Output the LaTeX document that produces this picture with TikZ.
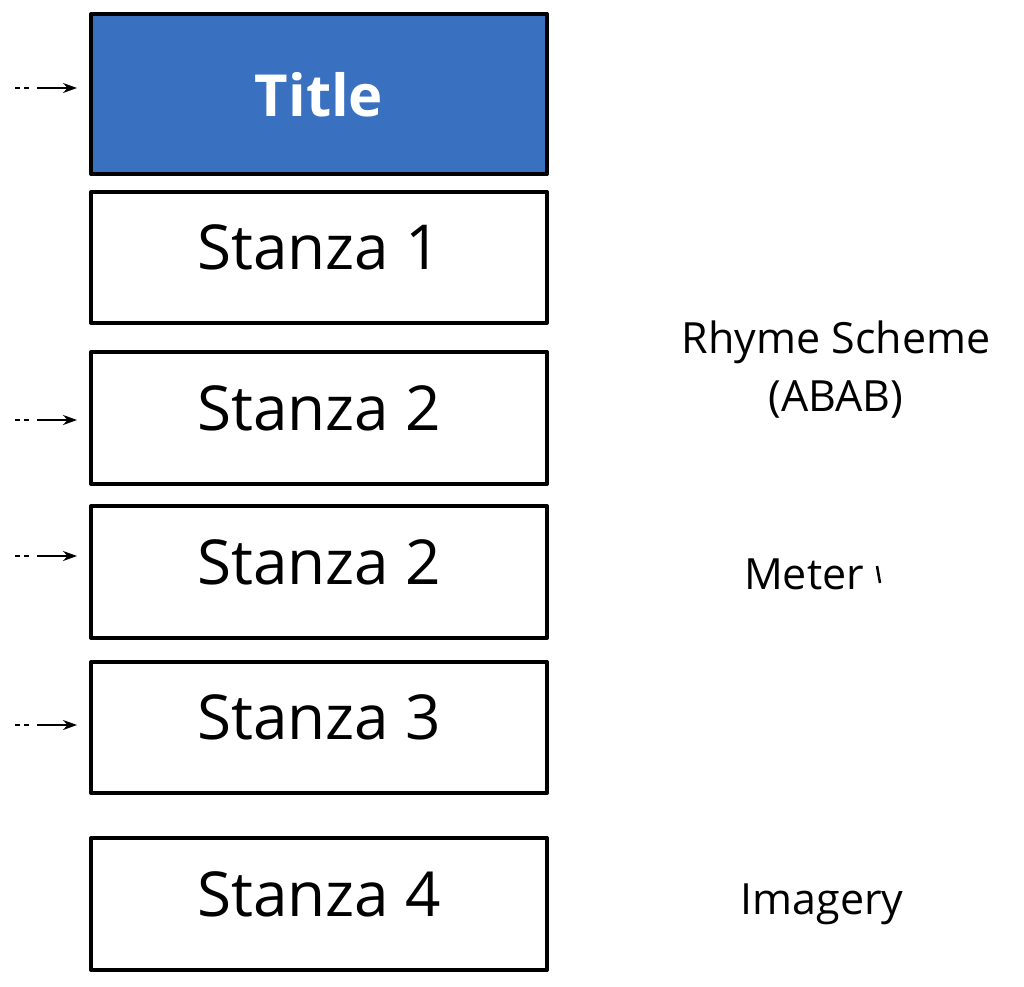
\documentclass[tikz,border=0pt]{standalone}
\usepackage{fontspec}
\setmainfont{Open Sans}
\usetikzlibrary{arrows.meta,calc}
\definecolor{titleblue}{RGB}{58,112,192}

\begin{document}
\begin{tikzpicture}[x=1pt, y=-1pt, >={Stealth[length=14pt,width=10pt]}, line join=round]
    \useasboundingbox (0,0) rectangle (1024,986);
    \tikzset{
        partbox/.style={draw=black, line width=4pt, minimum width=456pt, text depth=20pt, font=\fontsize{62}{70}\selectfont},
        sidelabel/.style={font=\fontsize{43}{58}\selectfont, align=center}
    }

    % 标题与各节
    \node[partbox, fill=titleblue, minimum height=160pt, text depth=0pt, text=white, font=\fontsize{58}{70}\selectfont\bfseries] (t) at (319,94) {Title};
    \node[partbox, minimum height=131pt] (s1) at (319,257.5) {Stanza 1};
    \node[partbox, minimum height=132pt] (s2) at (319,418) {Stanza 2};
    \node[partbox, minimum height=132pt] (s2b) at (319,572) {Stanza 2};
    \node[partbox, minimum height=131pt] (s3) at (319,727.5) {Stanza 3};
    \node[partbox, minimum height=132pt] (s4) at (319,904) {Stanza 4};

    % 左侧箭头
    \foreach \n/\y in {t/88, s2/420, s2b/556, s3/725} {
        \coordinate (a\n) at (15,\y);
        \draw[line width=2pt, dash pattern=on 5pt off 4pt] (a\n) -- ++(16,0);
        \draw[line width=2pt, ->, shorten >=12pt] ($(a\n)+(22,0)$) -- (a\n -| \n.west);
    }

    % 右侧说明
    \node[sidelabel] (rs) at (836,370) {Rhyme Scheme\\(ABAB)};
    \node[sidelabel] (me) at (804,574) {Meter};
    \draw[line width=2.5pt] (877,566) -- (880,583);
    \node[sidelabel] (im) at (822,904) {Imagery};
\end{tikzpicture}
\end{document}
